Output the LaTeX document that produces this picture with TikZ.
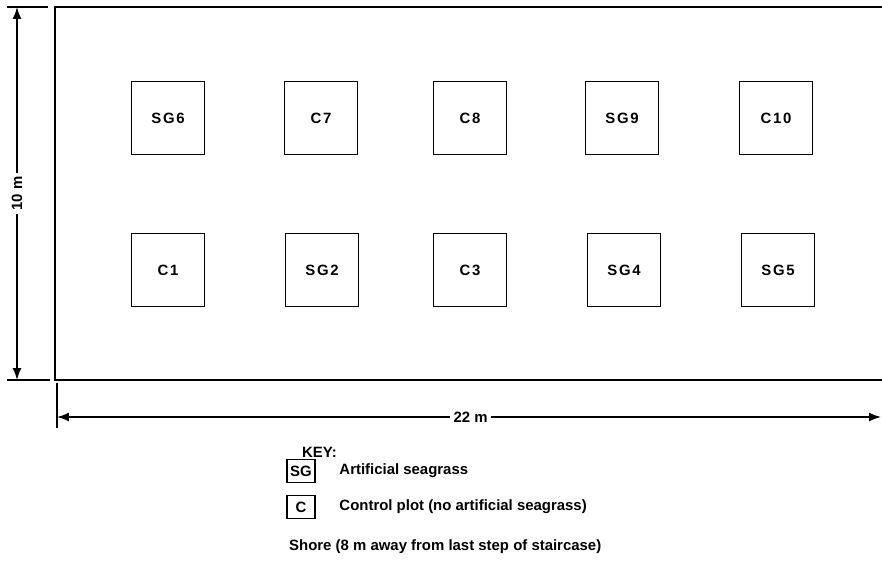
\documentclass[tikz,border=0pt]{standalone}
\usepackage{fontspec}
\setmainfont{Liberation Sans}
\usepackage{tikz}
\usetikzlibrary{arrows.meta,positioning}

\begin{document}
\begin{tikzpicture}[
  x=0.02cm, y=-0.02cm,
  font=\bfseries\fontsize{8.5}{10}\selectfont,
  plot/.style={draw, line width=1pt, minimum width=1.46cm, minimum height=1.46cm,
    font=\bfseries\fontsize{8.5}{10}\selectfont\addfontfeature{LetterSpace=12}},
  keybox/.style={draw, line width=0.9pt, minimum width=0.56cm, minimum height=0.46cm, inner sep=1pt},
  dim/.style={{Latex[length=2.4mm]}-{Latex[length=2.4mm]}, line width=0.8pt},
  tick/.style={line width=0.8pt}
]
\useasboundingbox (0,0) rectangle (882,561);
% site outline (continues off to the right)
\draw[line width=1.1pt] (882,7) -- (55,7) -- (55,380) -- (882,380);
% plots, top row
\node[plot] (SG6) at (168,118) {SG6};
\node[plot] (C7)  at (321,118) {C7};
\node[plot] (C8)  at (470,118) {C8};
\node[plot] (SG9) at (622,118) {SG9};
\node[plot] (C10) at (776,118) {C10};
% plots, bottom row
\node[plot] (C1)  at (168,270) {C1};
\node[plot] (SG2) at (322,270) {SG2};
\node[plot] (C3)  at (470,270) {C3};
\node[plot] (SG4) at (624,270) {SG4};
\node[plot] (SG5) at (778,270) {SG5};
% width 10 m
\coordinate (vtop) at (17,7);
\coordinate (vbot) at (17,380);
\draw[tick] (7,7) -- (48,7);
\draw[tick] (7,380) -- (50,380);
\draw[dim] (vtop) -- node[fill=white, rotate=90, inner sep=2pt] {10 m} (vbot);
% length 22 m
\coordinate (hleft) at (57,417);
\coordinate (hright) at (881,417);
\draw[tick] (57,383) -- (57,428);
\draw[dim] (hleft) -- node[fill=white, inner sep=2pt, pos=0.502] {22 m} (hright);
% key
\node[anchor=west] (key) at (296,452) {KEY:};
\node[keybox] (keySG) at (301,471) {SG};
\node[right=0.35cm of keySG] (keySGtxt) {Artificial seagrass};
\node[keybox] (keyC) at (301,507) {C};
\node[right=0.35cm of keyC] (keyCtxt) {Control plot (no artificial seagrass)};
\node[anchor=west] (shore) at (283,547) {Shore (8 m away from last step of staircase)};
\end{tikzpicture}
\end{document}
